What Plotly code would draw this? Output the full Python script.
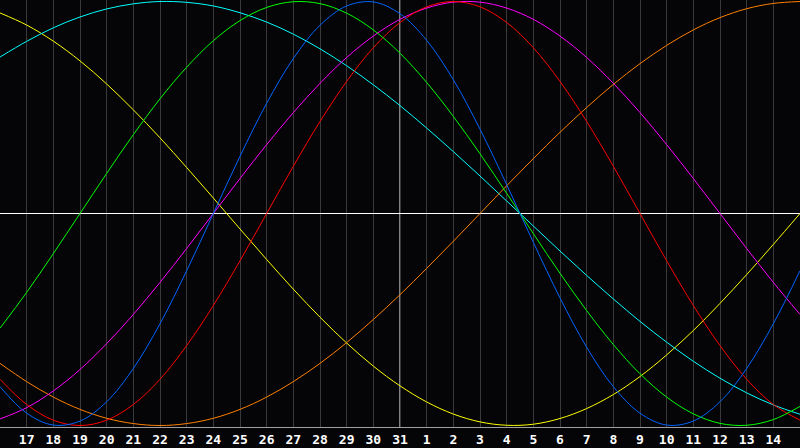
import plotly.graph_objects as go

# day labels along the x axis (index 0..30)
days = [16, 17, 18, 19, 20, 21, 22, 23, 24, 25, 26, 27, 28, 29, 30, 31,
        1, 2, 3, 4, 5, 6, 7, 8, 9, 10, 11, 12, 13, 14, 15]
today = 31

# daily values (-1 .. 1)
physical = [-0.817, -0.942, -0.998, -0.979, -0.888, -0.731, -0.520, -0.270, 0.000, 0.270, 0.520,
            0.731, 0.888, 0.979, 0.998, 0.942, 0.817, 0.631, 0.398, 0.136, -0.136, -0.398, -0.631,
            -0.817, -0.942, -0.998, -0.979, -0.888, -0.731, -0.520, -0.270]
emotional = [-0.782, -0.901, -0.975, -1.000, -0.975, -0.901, -0.782, -0.623, -0.434, -0.223, 0.000,
             0.223, 0.434, 0.623, 0.782, 0.901, 0.975, 1.000, 0.975, 0.901, 0.782, 0.623, 0.434,
             0.223, 0.000, -0.223, -0.434, -0.623, -0.782, -0.901, -0.975]
intellectual = [-0.541, -0.372, -0.189, 0.000, 0.189, 0.372, 0.541, 0.690, 0.815, 0.910, 0.972,
                0.999, 0.990, 0.945, 0.866, 0.756, 0.618, 0.458, 0.282, 0.095, -0.095, -0.282,
                -0.458, -0.618, -0.756, -0.866, -0.945, -0.990, -0.999, -0.972, -0.910]
intuitive = [-0.969, -0.916, -0.837, -0.736, -0.614, -0.476, -0.325, -0.165, 0.000, 0.165, 0.325,
             0.476, 0.614, 0.736, 0.837, 0.916, 0.969, 0.997, 0.997, 0.969, 0.916, 0.837, 0.736,
             0.614, 0.476, 0.325, 0.165, 0.000, -0.165, -0.325, -0.476]
aesthetic = [0.946, 0.889, 0.813, 0.720, 0.611, 0.489, 0.357, 0.217, 0.073, -0.073, -0.217, -0.357,
             -0.489, -0.611, -0.720, -0.813, -0.889, -0.946, -0.983, -0.999, -0.994, -0.967,
             -0.920, -0.854, -0.769, -0.667, -0.552, -0.424, -0.288, -0.146, 0.000]
awareness = [-0.707, -0.793, -0.866, -0.924, -0.966, -0.991, -1.000, -0.991, -0.966, -0.924, -0.866,
             -0.793, -0.707, -0.609, -0.500, -0.383, -0.259, -0.131, 0.000, 0.131, 0.259, 0.383,
             0.500, 0.609, 0.707, 0.793, 0.866, 0.924, 0.966, 0.991, 1.000]
spiritual = [0.738, 0.812, 0.876, 0.927, 0.965, 0.989, 1.000, 0.996, 0.979, 0.947, 0.903, 0.846,
             0.777, 0.697, 0.607, 0.509, 0.403, 0.292, 0.177, 0.059, -0.059, -0.177, -0.292,
             -0.403, -0.509, -0.607, -0.697, -0.777, -0.846, -0.903, -0.947]

series = [
    ("Aesthetic", aesthetic, "#ffff00"),
    ("Spiritual", spiritual, "#00ffff"),
    ("Awareness", awareness, "#ff8000"),
    ("Intuitive", intuitive, "#ff00ff"),
    ("Emotional", emotional, "#ff0000"),
    ("Intellectual", intellectual, "#00ff00"),
    ("Physical", physical, "#0064ff"),
]

idx = list(range(len(days)))
fig = go.Figure()
for name, vals, col in series:
    fig.add_trace(go.Scatter(x=idx, y=vals, mode="lines", name=name,
                             line=dict(color=col, width=1, shape="spline", smoothing=1.0),
                             hoverinfo="skip"))

fig.add_shape(type="line", xref="x", yref="paper", x0=days.index(today), x1=days.index(today),
              y0=0, y1=1, line=dict(color="#ffffff", width=1), layer="below")

fig.update_layout(
    width=800, height=448,
    margin=dict(l=0, r=0, t=0, b=21, autoexpand=False),
    paper_bgcolor="#050508", plot_bgcolor="#050508",
    showlegend=False,
    xaxis=dict(range=[0, 30], tickvals=idx[1:30], ticktext=[str(d) for d in days[1:30]],
               showgrid=True, gridcolor="#3a3a3a", gridwidth=1, zeroline=False,
               showline=True, linecolor="#a0a0a0", linewidth=1, mirror=True, ticks="",
               automargin=False,
               tickfont=dict(family="DejaVu Sans Mono", size=13, color="#ffffff", weight="bold")),
    yaxis=dict(range=[-1.0071, 1.0071], showgrid=False, showticklabels=False,
               zeroline=True, zerolinecolor="#ffffff", zerolinewidth=1, automargin=False,
               showline=True, linecolor="#a0a0a0", linewidth=1, mirror=True, ticks=""),
)

fig.write_html("out.html", config={"displayModeBar": False},
               post_script="document.body.style.margin='0';document.body.style.padding='0';"
                           "document.body.style.overflow='hidden';"
                           "document.body.style.background='#050508';")
